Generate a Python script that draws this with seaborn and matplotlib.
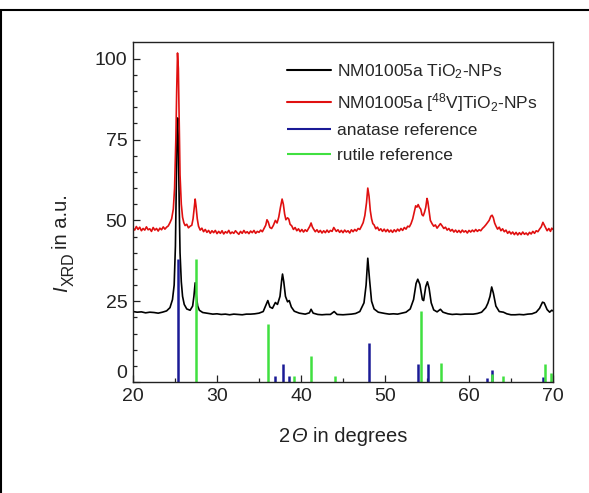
import matplotlib

matplotlib.use("Agg")

import matplotlib.pyplot as plt
import matplotlib.transforms as mtransforms
import pandas as pd
import seaborn as sns

# digitised diffractogram of the untreated particles (2theta, intensity)
black_points = [
    (20.0, 21.8), (20.5, 21.6), (21.0, 21.7), (21.5, 21.4), (22.0, 21.6), (22.5, 21.5),
    (23.0, 21.3), (23.5, 21.6), (24.0, 22.0), (24.4, 23.0), (24.7, 25.5), (24.9, 30.0),
    (25.05, 42.0), (25.15, 60.0), (25.25, 78.0), (25.32, 81.7), (25.4, 74.0), (25.5, 55.0),
    (25.6, 40.0), (25.75, 31.0), (25.9, 26.5), (26.1, 24.0), (26.4, 22.6), (26.8, 22.2),
    (27.1, 23.5), (27.25, 26.5), (27.4, 30.7), (27.55, 26.5), (27.7, 23.5), (27.9, 22.2),
    (28.3, 21.5), (29.0, 21.2), (29.5, 21.0), (30.0, 21.1), (30.5, 20.9), (31.0, 21.0),
    (31.5, 20.8), (32.0, 21.0), (32.5, 20.9), (33.0, 20.8), (33.5, 21.0), (34.0, 21.0),
    (34.5, 21.1), (35.0, 21.3), (35.5, 21.8), (35.85, 24.0), (36.05, 25.2), (36.3, 23.2),
    (36.6, 22.8), (36.95, 24.6), (37.2, 24.0), (37.5, 26.5), (37.7, 31.5), (37.8, 33.4),
    (37.95, 31.0), (38.15, 26.5), (38.4, 24.8), (38.6, 25.2), (38.85, 23.2), (39.2, 21.9),
    (39.8, 21.3), (40.5, 21.0), (41.0, 21.4), (41.2, 22.5), (41.45, 21.3), (42.0, 20.9),
    (42.5, 20.8), (43.0, 20.9), (43.5, 20.9), (43.95, 21.8), (44.3, 20.9), (45.0, 20.8),
    (45.5, 20.9), (46.0, 21.0), (46.5, 21.2), (47.0, 21.8), (47.5, 24.5), (47.75, 30.0),
    (47.95, 38.3), (48.15, 32.0), (48.4, 25.0), (48.7, 22.6), (49.2, 21.6), (50.0, 21.2),
    (50.5, 21.0), (51.0, 21.1), (51.5, 21.0), (52.0, 21.3), (52.5, 21.6), (53.0, 22.6),
    (53.4, 25.5), (53.7, 30.5), (53.9, 31.8), (54.15, 30.2), (54.45, 25.5), (54.6, 25.2),
    (54.85, 29.5), (55.05, 31.0), (55.25, 29.0), (55.5, 24.5), (55.8, 22.3), (56.2, 21.7),
    (56.6, 22.5), (56.9, 21.6), (57.5, 21.1), (58.0, 20.9), (58.5, 21.0), (59.0, 20.9),
    (59.5, 21.0), (60.0, 21.0), (60.5, 21.0), (61.0, 21.2), (61.5, 21.6), (62.0, 23.0),
    (62.25, 24.4), (62.5, 26.5), (62.7, 29.4), (62.9, 27.5), (63.2, 23.5), (63.6, 21.8),
    (64.1, 21.6), (64.5, 21.1), (65.0, 20.8), (65.5, 20.8), (66.0, 20.9), (66.5, 20.8),
    (67.0, 21.0), (67.5, 21.1), (68.0, 21.6), (68.4, 22.8), (68.75, 24.7), (68.95, 24.5),
    (69.3, 22.4), (69.6, 21.6), (69.85, 22.2), (70.0, 22.0),
]

# digitised diffractogram of the 48V labelled particles (noisier, offset upwards)
red_points = [
    (20.0, 47.6), (20.2, 47.0), (20.4, 48.1), (20.6, 47.2), (20.8, 47.9), (21.0, 46.8),
    (21.2, 47.5), (21.4, 47.0), (21.6, 48.0), (21.8, 47.1), (22.0, 47.4), (22.2, 46.6),
    (22.4, 47.8), (22.6, 47.0), (22.8, 47.5), (23.0, 46.7), (23.2, 47.6), (23.4, 47.1),
    (23.6, 48.0), (23.8, 47.3), (24.0, 47.9), (24.2, 48.3), (24.4, 49.3), (24.6, 50.5),
    (24.8, 53.5), (24.95, 60.0), (25.1, 75.0), (25.2, 90.0), (25.3, 101.8), (25.4, 97.0),
    (25.5, 80.0), (25.6, 64.0), (25.75, 55.0), (25.9, 51.0), (26.05, 49.3), (26.2, 48.4),
    (26.4, 48.8), (26.6, 47.7), (26.8, 48.2), (27.0, 48.5), (27.15, 50.5), (27.3, 54.0),
    (27.4, 56.6), (27.5, 54.5), (27.65, 50.5), (27.8, 48.2), (28.0, 47.0), (28.2, 47.6),
    (28.4, 46.5), (28.6, 47.2), (28.8, 46.3), (29.0, 46.9), (29.2, 46.0), (29.4, 46.8),
    (29.6, 46.2), (29.8, 46.9), (30.0, 45.9), (30.2, 46.6), (30.4, 46.0), (30.6, 46.8),
    (30.8, 45.8), (31.0, 46.5), (31.2, 46.1), (31.4, 46.9), (31.6, 45.9), (31.8, 46.4),
    (32.0, 46.0), (32.2, 46.8), (32.4, 46.2), (32.6, 45.7), (32.8, 46.6), (33.0, 46.0),
    (33.2, 46.9), (33.4, 46.1), (33.6, 46.5), (33.8, 45.9), (34.0, 46.7), (34.2, 46.2),
    (34.4, 46.9), (34.6, 46.0), (34.8, 46.6), (35.0, 46.3), (35.2, 47.0), (35.4, 46.5),
    (35.6, 47.5), (35.8, 48.5), (35.95, 50.2), (36.1, 49.5), (36.3, 47.8), (36.5, 47.5),
    (36.7, 48.4), (36.95, 50.0), (37.15, 49.2), (37.35, 51.0), (37.55, 54.0), (37.75, 56.6),
    (37.9, 55.0), (38.05, 52.0), (38.2, 50.2), (38.4, 50.8), (38.55, 50.4), (38.7, 48.8),
    (38.9, 48.3), (39.1, 47.2), (39.3, 47.8), (39.5, 46.8), (39.7, 47.4), (39.9, 46.5),
    (40.1, 47.2), (40.3, 46.4), (40.5, 47.1), (40.7, 46.6), (40.9, 47.5), (41.05, 48.2),
    (41.2, 49.2), (41.35, 48.0), (41.5, 47.3), (41.7, 46.5), (41.9, 47.1), (42.1, 46.3),
    (42.3, 46.9), (42.5, 46.1), (42.7, 46.8), (42.9, 46.2), (43.1, 47.0), (43.3, 46.3),
    (43.5, 46.9), (43.7, 46.6), (43.9, 47.8), (44.05, 47.2), (44.2, 46.6), (44.4, 47.1),
    (44.6, 46.3), (44.8, 46.9), (45.0, 46.2), (45.2, 47.0), (45.4, 46.4), (45.6, 46.8),
    (45.8, 46.1), (46.0, 47.1), (46.2, 46.5), (46.4, 47.2), (46.6, 46.7), (46.8, 47.5),
    (47.0, 47.2), (47.2, 48.2), (47.4, 49.3), (47.6, 51.5), (47.8, 55.5), (47.95, 60.0),
    (48.1, 57.5), (48.25, 53.0), (48.4, 50.5), (48.55, 49.0), (48.7, 48.6), (48.9, 47.4),
    (49.1, 47.9), (49.3, 46.9), (49.5, 47.4), (49.7, 46.6), (49.9, 47.3), (50.1, 46.5),
    (50.3, 47.2), (50.5, 46.4), (50.7, 47.0), (50.9, 46.3), (51.1, 47.1), (51.3, 46.5),
    (51.5, 47.3), (51.7, 46.7), (51.9, 47.5), (52.1, 46.9), (52.3, 47.8), (52.5, 47.3),
    (52.7, 48.2), (52.9, 48.0), (53.1, 49.0), (53.3, 50.5), (53.5, 52.8), (53.65, 54.5),
    (53.8, 54.1), (53.95, 54.9), (54.1, 54.0), (54.25, 53.5), (54.4, 51.8), (54.55, 51.4),
    (54.7, 52.5), (54.85, 54.0), (55.0, 56.8), (55.1, 55.8), (55.25, 53.0), (55.4, 50.0),
    (55.6, 49.0), (55.8, 48.2), (56.0, 48.6), (56.2, 47.6), (56.4, 48.3), (56.6, 49.0),
    (56.8, 48.3), (57.0, 47.5), (57.2, 47.9), (57.4, 47.0), (57.6, 47.5), (57.8, 46.7),
    (58.0, 47.2), (58.2, 46.4), (58.4, 47.0), (58.6, 46.3), (58.8, 46.9), (59.0, 46.2),
    (59.2, 47.0), (59.4, 46.4), (59.6, 46.8), (59.8, 46.1), (60.0, 46.9), (60.2, 46.4),
    (60.4, 47.0), (60.6, 46.5), (60.8, 47.2), (61.0, 46.6), (61.2, 47.1), (61.4, 46.8),
    (61.6, 47.5), (61.8, 48.0), (62.0, 48.6), (62.2, 49.3), (62.4, 50.0), (62.6, 51.3),
    (62.75, 51.6), (62.9, 50.8), (63.05, 49.2), (63.2, 48.3), (63.4, 47.3), (63.6, 47.9),
    (63.8, 46.8), (64.0, 47.4), (64.2, 46.5), (64.4, 47.0), (64.6, 46.0), (64.8, 46.6),
    (65.0, 45.8), (65.2, 46.4), (65.4, 45.6), (65.6, 46.3), (65.8, 45.5), (66.0, 46.2),
    (66.2, 45.6), (66.4, 46.4), (66.6, 45.7), (66.8, 46.1), (67.0, 45.5), (67.2, 46.3),
    (67.4, 45.8), (67.6, 46.6), (67.8, 46.0), (68.0, 46.8), (68.2, 46.5), (68.4, 47.3),
    (68.6, 48.0), (68.8, 49.4), (68.95, 48.6), (69.1, 47.8), (69.3, 46.8), (69.5, 47.5),
    (69.7, 46.6), (69.85, 47.6), (70.0, 47.2),
]

# reference stick patterns
anatase_positions = [25.3, 36.95, 37.8, 38.58, 48.05, 53.9, 55.06, 62.12, 62.7, 68.76]
anatase_heights = [38.0, 1.8, 5.7, 1.8, 12.0, 5.7, 5.7, 1.2, 3.7, 1.5]
rutile_positions = [27.45, 36.08, 39.19, 41.24, 44.05, 54.32, 56.64, 62.75, 64.04, 69.0, 69.8]
rutile_heights = [38.0, 18.0, 2.0, 8.0, 1.8, 22.0, 6.0, 2.5, 1.8, 5.7, 2.9]

labels = [
    r"NM01005a TiO$_2$-NPs",
    r"NM01005a [$^{48}$V]TiO$_2$-NPs",
    "anatase reference",
    "rutile reference",
]
colors = ["#000000", "#e01010", "#1a1a96", "#40e040"]
text_color = "#222222"

sns.set_style("ticks")
plt.rcParams["font.family"] = ["Liberation Sans", "DejaVu Sans"]
plt.rcParams["mathtext.fontset"] = "custom"
plt.rcParams["mathtext.rm"] = "Liberation Sans"
plt.rcParams["mathtext.it"] = "Liberation Sans:italic"
plt.rcParams["mathtext.bf"] = "Liberation Sans:bold"

black = pd.DataFrame(black_points, columns=["two_theta", "intensity"])
red = pd.DataFrame(red_points, columns=["two_theta", "intensity"])

fig = plt.figure(figsize=(5.89, 4.93), dpi=100)
ax = fig.add_axes([133 / 589, 1 - 382 / 493, 420 / 589, 340 / 493])

sns.lineplot(data=black, x="two_theta", y="intensity", ax=ax, color=colors[0],
             linewidth=1.2, sort=False, estimator=None, label=labels[0])
sns.lineplot(data=red, x="two_theta", y="intensity", ax=ax, color=colors[1],
             linewidth=1.2, sort=False, estimator=None, label=labels[1])
ax.vlines(anatase_positions, 0, anatase_heights, color=colors[2], linewidth=1.8, label=labels[2])
ax.vlines(rutile_positions, 0, rutile_heights, color=colors[3], linewidth=1.8, label=labels[3])

ax.set_xlim(20, 70)
ax.set_ylim(0, 105.2)
ax.set_xticks([20, 30, 40, 50, 60, 70])
ax.set_xticks([25, 35, 45, 55, 65], minor=True)
ax.set_yticks([0, 25, 50, 75, 100])
ax.set_yticks([v for v in range(5, 105, 5) if v % 25], minor=True)
ax.tick_params(axis="both", which="both", direction="in", labelsize=14, colors=text_color,
               top=False, right=False)
ax.tick_params(axis="both", which="major", length=5, width=0.9, pad=4)
ax.tick_params(axis="both", which="minor", length=3, width=0.9)
for spine in ax.spines.values():
    spine.set_visible(True)
    spine.set_linewidth(1.0)
    spine.set_color(text_color)

# Origin lifts the "0" so it clears the "20" of the x axis
zero_label = ax.get_yticklabels()[0]
zero_label.set_transform(zero_label.get_transform()
                         + mtransforms.ScaledTranslation(0, 10 / 100, fig.dpi_scale_trans))

# x label: "2" + italic capital theta + "in degrees" (mathtext keeps Greek capitals upright);
# all parts share one size, so aligning bbox bottoms keeps a common baseline
ax.set_xlabel("")
part = fig.text(279 / 589, 1 - 446 / 493, "2", fontsize=14.5, color=text_color,
                ha="left", va="bottom")
part = ax.annotate("Θ", xy=(1, 0), xycoords=part, xytext=(1, 0), textcoords="offset points",
                   fontsize=14.5, style="italic", color=text_color, ha="left", va="bottom")
ax.annotate("in degrees", xy=(1, 0), xycoords=part, xytext=(4, 0), textcoords="offset points",
            fontsize=14.5, color=text_color, ha="left", va="bottom")

# y label: italic I with a fairly large XRD subscript, then "in a.u."
ax.set_ylabel("")
part = fig.text(71 / 589, 1 - 292 / 493, "I", fontsize=14.5, style="italic", color=text_color,
                rotation=90, ha="right", va="bottom")
part = ax.annotate("XRD", xy=(1, 1), xycoords=part, xytext=(4, 0), textcoords="offset points",
                   fontsize=11.5, color=text_color, rotation=90, ha="right", va="bottom")
ax.annotate("in a.u.", xy=(1, 1), xycoords=part, xytext=(-4, 3), textcoords="offset points",
            fontsize=14.5, color=text_color, rotation=90, ha="right", va="bottom")

leg = ax.legend(loc="upper left", bbox_to_anchor=(0.367, 0.94), frameon=False,
                fontsize=12.5, handlelength=2.5, handletextpad=0.35,
                labelspacing=0.55, borderpad=0, borderaxespad=0)
for line in leg.get_lines():
    line.set_linewidth(1.5)

# outer frame of the original figure panel
fig.add_artist(plt.Rectangle((1 / 589, -0.5), 2.0, 1.5 - 10 / 493, transform=fig.transFigure,
                             fill=False, edgecolor="black", linewidth=1.5))

fig.savefig("out.png", dpi=100)
